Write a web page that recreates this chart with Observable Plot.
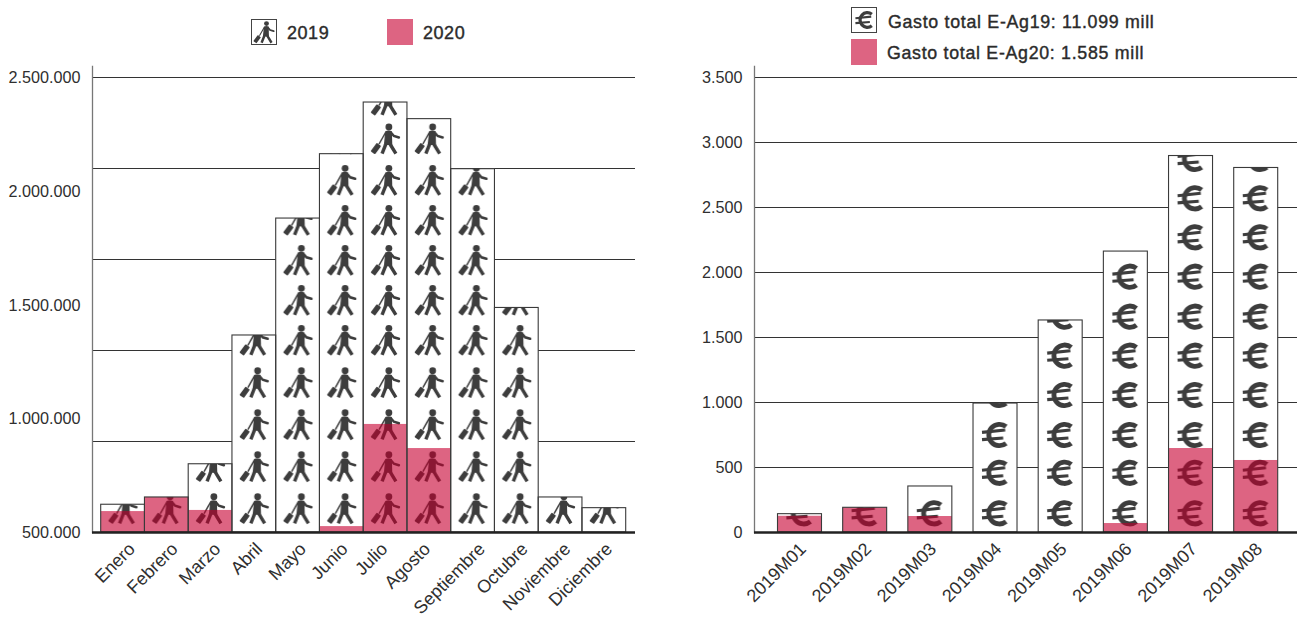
<!DOCTYPE html>
<html lang="es">
<head>
<meta charset="utf-8">
<script src="https://cdn.jsdelivr.net/npm/d3@7"></script>
<script src="https://cdn.jsdelivr.net/npm/@observablehq/plot@0.6"></script>
<style>
  html, body { margin: 0; padding: 0; background: #fff; }
  #page { position: relative; width: 1297px; height: 619px; overflow: hidden; font-family: "Liberation Sans", Arial, sans-serif; color: #2b2b2b; }
  .panel { position: absolute; top: 60px; }
  .panel svg { display: block; overflow: visible; max-width: none; }
  .panel svg text { -webkit-text-stroke: 0.25px #2f2f2f; }
  .swatch { position: absolute; width: 26px; height: 26px; display: block; }
  .ltext { position: absolute; white-space: nowrap; letter-spacing: 0.7px; -webkit-text-stroke: 0.4px #2b2b2b; }
  .ltext.short { letter-spacing: 0.55px; }
</style>
</head>
<body>
<div id="page"></div>
<script>
// ---- data ----
const months = ["Enero","Febrero","Marzo","Abril","Mayo","Junio","Julio","Agosto","Septiembre","Octubre","Noviembre","Diciembre"];
const visitors2019 = [622000,654000,800000,1366000,1880000,2163000,2390000,2317000,2097000,1487000,654000,607000];
const visitors2020 = [592000,654000,597000,null,null,526000,975000,869000,null,null,null,null];
const visitorTicks = [500000,1000000,1500000,2000000,2500000];
const visitorGrid = [900000,1300000,1700000,2100000,2500000];

const periods = ["2019M01","2019M02","2019M03","2019M04","2019M05","2019M06","2019M07","2019M08"];
const spend2019 = [141,190,354,992,1631,2161,2896,2804];
const spend2020 = [125,190,123,null,null,69,646,554];
const spendTicks = [0,500,1000,1500,2000,2500,3000,3500];

const legendLeft = ["2019","2020"];
const legendRight = ["Gasto total E-Ag19: 11.099 mill","Gasto total E-Ag20: 1.585 mill"];

// ---- style ----
const PINK = "#dd6482", DARK = "#3d3d3d", DEEP = "#8a1733", INK = "#2f2f2f";
const fmt = d3.formatLocale({decimal: ",", thousands: ".", grouping: [3], currency: ["", ""]}).format(",d");
const monthLabelShift = [9,8,7,5,5,3,-1,-2,9,8,7,5];
const periodLabelShift = [3,3,3,3,3,3,3,3];

function walker(g, color) {
  g.append("circle").attr("cx", 0).attr("cy", 0).attr("r", 3.4).attr("fill", color);
  g.append("path").attr("fill", color).attr("d", "M-3.6 4.2 Q-0.5 2.8 3 4.2 L3.4 18 L-5 18 Z");
  g.append("path").attr("fill", "none").attr("stroke", color).attr("stroke-width", 3.4)
    .attr("stroke-linecap", "butt")
    .attr("d", "M-2.8 16.5 L-6.8 26.6 M0.8 16.5 L7 26.6");
  g.append("path").attr("fill", "none").attr("stroke", color).attr("stroke-width", 2.5).attr("stroke-linecap", "round")
    .attr("d", "M2 5.5 L5 9 L10 10.5");
  g.append("path").attr("fill", "none").attr("stroke", color).attr("stroke-width", 1.5)
    .attr("d", "M-3 5 L-9.8 17");
  g.append("rect").attr("x", -2.7).attr("y", -5.2).attr("width", 5.4).attr("height", 10.4).attr("rx", 0.8).attr("fill", color)
    .attr("transform", "translate(-13 21.6) rotate(36)");
}
function euro(g, color) {
  g.append("path").attr("fill", "none").attr("stroke", color).attr("stroke-width", 4.8)
    .attr("d", "M11.5 -8.4 A10.7 10.7 0 1 0 11.5 8.4");
  g.append("path").attr("fill", "none").attr("stroke", color).attr("stroke-width", 3.1)
    .attr("d", "M-12.6 -2.6 L10.6 -5 M-12.6 4.6 L8.6 3");
}
// svg-space rows of the two tiled pictograms (panel svg starts 60px down the page)
const walkerRows = [88.3,127,168.3,208.3,248.3,288.3,328.3,370.7,412.7,454.7,496.7].map(y => y - 60);
const euroRows = [159,198.3,237.3,276.7,316.7,355.7,395,435,472.8,513.3].map(y => y - 60);

function patternDef(id, x, w, bg, draw, rows, iconX, color) {
  return () => {
    const defs = d3.create("svg:defs");
    const p = defs.append("pattern").attr("id", id).attr("patternUnits", "userSpaceOnUse")
      .attr("x", x).attr("y", 0).attr("width", w).attr("height", 520);
    p.append("rect").attr("width", w).attr("height", 520).attr("fill", bg);
    for (const y of rows) draw(p.append("g").attr("transform", `translate(${iconX} ${y})`), color);
    return defs.node();
  };
}

function swatchIcon(left, top, draw, sx, sy, k) {
  const s = d3.create("svg").attr("class", "swatch").attr("viewBox", "0 0 26 26")
    .style("left", left + "px").style("top", top + "px");
  s.append("rect").attr("x", 0.5).attr("y", 0.5).attr("width", 25).attr("height", 25).attr("fill", "#fff").attr("stroke", "#444").attr("stroke-width", 1);
  draw(s.append("g").attr("transform", `translate(${sx} ${sy}) scale(${k})`), DARK);
  return s.node();
}
function swatchPink(left, top) {
  return d3.create("div").attr("class", "swatch").style("left", left + "px").style("top", top + "px").style("background", PINK).node();
}
function label(text, left, top, size, cls) {
  const d = document.createElement("div");
  d.className = "ltext" + (cls ? " " + cls : ""); d.textContent = text;
  d.style.left = left + "px"; d.style.top = top + "px"; d.style.fontSize = size + "px";
  return d;
}

function chart(o) {
  const rows = o.cats.map((c, i) => ({c, a: o.a[i], b: o.b[i]}));
  const base = () => o.yDomain[0];
  return Plot.plot({
    width: o.width, height: 559,
    marginLeft: o.marginLeft, marginRight: o.marginRight, marginTop: 6, marginBottom: 87,
    style: {fontFamily: '"Liberation Sans", Arial, sans-serif', fontSize: "16px", color: INK, background: "transparent"},
    x: {type: "band", domain: o.cats, range: o.xRange, paddingInner: o.inner, paddingOuter: 0, round: false, axis: null},
    y: {domain: o.yDomain, range: [472, 17]},
    marks: [
      patternDef(o.id + "A", o.xRange[0], o.step, "#fff", o.draw, o.rows, o.iconX, DARK),
      patternDef(o.id + "B", o.xRange[0], o.step, PINK, o.draw, o.rows, o.iconX, DEEP),
      Plot.ruleY(o.grid, {stroke: "#333", strokeWidth: 1}),
      Plot.barY(rows, {x: "c", y1: base, y2: "a", fill: `url(#${o.id}A)`}),
      Plot.barY(rows.filter(d => d.b != null), {x: "c", y1: base, y2: "b", fill: `url(#${o.id}B)`}),
      Plot.barY(rows, {x: "c", y1: base, y2: "a", fill: "none", stroke: "#3a3a3a", strokeWidth: 1.1}),
      Plot.frame({anchor: "left", stroke: "#777", strokeWidth: 1.3}),
      Plot.ruleY([o.yDomain[0]], {stroke: "#222", strokeWidth: 2.4}),
      Plot.axisY({ticks: o.ticks, tickFormat: fmt, tickSize: 0, tickPadding: o.yPad, label: null, fontSize: 16.2, dy: 0.5}),
      ...o.cats.map((c, i) => Plot.text([c], {
        x: d => d, y: base, text: d => d, rotate: -45, textAnchor: "end", lineAnchor: "middle",
        fontSize: 18, dx: o.shift[i], dy: 13.5
      }))
    ]
  });
}

const page = d3.select("#page").node();

// left panel
const leftPanel = document.createElement("div");
leftPanel.className = "panel"; leftPanel.style.left = "0px";
leftPanel.append(chart({
  id: "walk", cats: months, a: visitors2019, b: visitors2020, width: 648, marginLeft: 92, marginRight: 13,
  xRange: [100.7, 625.7], inner: 0, step: 43.75, yDomain: [500000, 2500000],
  grid: visitorGrid, ticks: visitorTicks, draw: walker, rows: walkerRows, iconX: 25.7, yPad: 12, shift: monthLabelShift
}));
page.append(leftPanel);

// right panel
const rightPanel = document.createElement("div");
rightPanel.className = "panel"; rightPanel.style.left = "648px";
rightPanel.append(chart({
  id: "eur", cats: periods, a: spend2019, b: spend2020, width: 649, marginLeft: 106, marginRight: 0,
  xRange: [129.5, 629.7], inner: 0.325, step: 65.2, yDomain: [0, 3500],
  grid: spendTicks.slice(1), ticks: spendTicks, draw: euro, rows: euroRows, iconX: 21.5, yPad: 12, shift: periodLabelShift
}));
page.append(rightPanel);

// legends
page.append(swatchIcon(250.5, 18.5, walker, 15.5, 4.6, 0.72));
page.append(label(legendLeft[0], 287, 23, 18, "short"));
page.append(swatchPink(387, 19));
page.append(label(legendLeft[1], 423, 23, 18, "short"));
page.append(swatchIcon(851, 6.5, euro, 13, 13, 0.68));
page.append(label(legendRight[0], 888, 11.5, 17.8));
page.append(swatchPink(851, 39));
page.append(label(legendRight[1], 887, 43, 17.8));
</script>
</body>
</html>
